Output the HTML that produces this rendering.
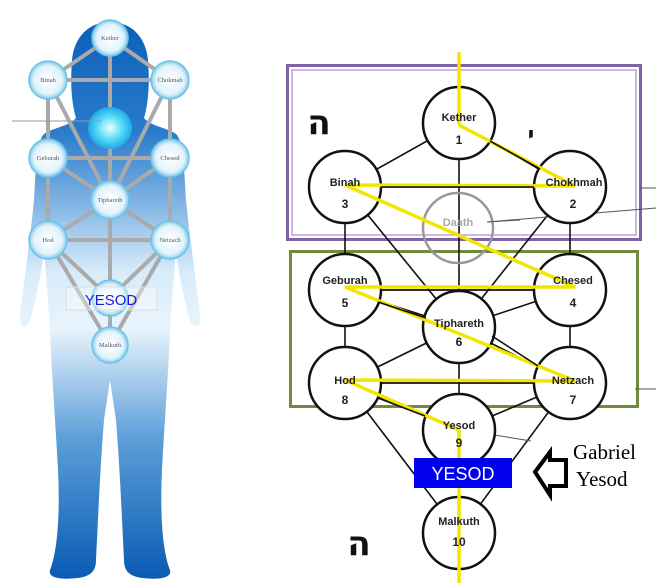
<!DOCTYPE html>
<html><head><meta charset="utf-8">
<style>
html,body{margin:0;padding:0;background:#fff;}
svg{display:block;}
</style></head>
<body>
<svg width="668" height="587" viewBox="0 0 668 587" xmlns="http://www.w3.org/2000/svg" font-family="Liberation Sans, DejaVu Sans, sans-serif">
<defs>
<linearGradient id="body" x1="0" y1="0" x2="0" y2="1">
<stop offset="0" stop-color="#0a5fb8"/>
<stop offset="0.2" stop-color="#2a7ccc"/>
<stop offset="0.45" stop-color="#d8ecfa"/>
<stop offset="0.55" stop-color="#e8f4fc"/>
<stop offset="0.75" stop-color="#5b9ed8"/>
<stop offset="1" stop-color="#0a5bb5"/>
</linearGradient>
<radialGradient id="glow" cx="0.5" cy="0.5" r="0.5">
<stop offset="0" stop-color="#e8ffff"/>
<stop offset="0.6" stop-color="#4fd8f5"/>
<stop offset="1" stop-color="#20a8e8"/>
</radialGradient>
<radialGradient id="node" cx="0.5" cy="0.5" r="0.5">
<stop offset="0" stop-color="#ffffff"/>
<stop offset="0.75" stop-color="#e2f3fb"/>
<stop offset="1" stop-color="#7fcbeb"/>
</radialGradient>
</defs>

<!-- Left figure silhouette -->
<path fill="url(#body)" d="M110,22 C88,22 74,38 72,60 C70,85 72,105 76,118 C70,126 52,128 44,134 C36,142 36,170 34,200 C30,240 24,280 20,315 C18,328 26,330 30,320 C36,300 42,270 44,250 C46,275 48,300 50,330 C52,380 56,430 58,470 C60,510 58,550 50,570 C48,578 60,580 78,578 C92,576 96,570 96,560 C98,520 100,470 104,420 L110,380 L116,420 C120,470 122,520 124,560 C124,570 128,576 142,578 C160,580 172,578 170,570 C162,550 160,510 162,470 C164,430 168,380 170,330 C172,300 174,275 176,250 C178,270 184,300 190,320 C194,330 202,328 200,315 C196,280 190,240 186,200 C184,170 184,142 176,134 C168,128 150,126 144,118 C148,105 150,85 148,60 C146,38 132,22 110,22 Z"/>

<!-- left grey paths -->
<g stroke="#aaa" stroke-width="4" fill="none">
<line x1="110" y1="38" x2="48" y2="80"/><line x1="110" y1="38" x2="170" y2="80"/>
<line x1="48" y1="80" x2="170" y2="80"/><line x1="110" y1="38" x2="110" y2="345"/>
<line x1="48" y1="80" x2="48" y2="240"/><line x1="170" y1="80" x2="170" y2="240"/>
<line x1="48" y1="80" x2="110" y2="200"/><line x1="170" y1="80" x2="110" y2="200"/>
<line x1="48" y1="158" x2="170" y2="158"/><line x1="48" y1="158" x2="110" y2="200"/>
<line x1="170" y1="158" x2="110" y2="200"/><line x1="48" y1="240" x2="110" y2="200"/>
<line x1="170" y1="240" x2="110" y2="200"/><line x1="48" y1="240" x2="170" y2="240"/>
<line x1="48" y1="240" x2="110" y2="298"/><line x1="170" y1="240" x2="110" y2="298"/>
<line x1="48" y1="240" x2="110" y2="345"/><line x1="170" y1="240" x2="110" y2="345"/>
</g>
<ellipse cx="110" cy="128" rx="22" ry="21" fill="url(#glow)"/>
<line x1="12" y1="121" x2="102" y2="121" stroke="#999" stroke-width="1"/>
<g stroke="#6cc3ea" stroke-width="1.5" fill="url(#node)">
<circle cx="110" cy="38" r="18"/><circle cx="48" cy="80" r="19"/><circle cx="170" cy="80" r="19"/>
<circle cx="48" cy="158" r="19"/><circle cx="170" cy="158" r="19"/><circle cx="110" cy="200" r="19"/>
<circle cx="48" cy="240" r="19"/><circle cx="170" cy="240" r="19"/><circle cx="110" cy="298" r="18"/>
<circle cx="110" cy="345" r="18"/>
</g>
<g font-family="Liberation Serif, serif" fill="#556" text-anchor="middle" font-size="6.5">
<text x="110" y="40">Kether</text><text x="48" y="82">Binah</text><text x="170" y="82">Chokmah</text>
<text x="48" y="160">Geburah</text><text x="170" y="160">Chesed</text><text x="110" y="202">Tiphareth</text>
<text x="48" y="242">Hod</text><text x="170" y="242">Netzach</text><text x="110" y="347">Malkuth</text>
</g>
<rect x="66" y="287" width="91" height="23" fill="rgba(255,255,255,0.35)" stroke="#ddd" stroke-width="1"/>
<text x="111" y="305" text-anchor="middle" font-size="15" fill="#1a1ae6">YESOD</text>

<!-- Right diagram -->
<rect x="287.5" y="65.5" width="353" height="174" fill="none" stroke="#8060a8" stroke-width="3"/>
<rect x="292" y="70" width="344" height="165" fill="none" stroke="#b8a6d0" stroke-width="1.5"/>
<rect x="290.5" y="251.5" width="347" height="155" fill="none" stroke="#6e8a3a" stroke-width="3"/>

<g stroke="#111" stroke-width="1.6">
<line x1="459" y1="123" x2="345" y2="187"/><line x1="459" y1="123" x2="570" y2="187"/>
<line x1="345" y1="187" x2="570" y2="187"/>
<line x1="459" y1="123" x2="459" y2="430"/>
<line x1="345" y1="187" x2="345" y2="383"/><line x1="570" y1="187" x2="570" y2="383"/>
<line x1="345" y1="187" x2="459" y2="327"/><line x1="570" y1="187" x2="459" y2="327"/>
<line x1="345" y1="290" x2="570" y2="290"/>
<line x1="345" y1="290" x2="459" y2="327"/><line x1="570" y1="290" x2="459" y2="327"/>
<line x1="345" y1="383" x2="459" y2="327"/><line x1="570" y1="383" x2="459" y2="327"/>
<line x1="345" y1="383" x2="570" y2="383"/>
<line x1="345" y1="383" x2="459" y2="430"/><line x1="570" y1="383" x2="459" y2="430"/>
<line x1="345" y1="383" x2="459" y2="533"/><line x1="570" y1="383" x2="459" y2="533"/>
<line x1="459" y1="430" x2="459" y2="533"/>
</g>
<g stroke="#555" stroke-width="1">
<line x1="640" y1="188" x2="656" y2="188"/>
<line x1="487" y1="222" x2="656" y2="208"/>
<line x1="635" y1="389" x2="656" y2="389"/>
<line x1="482" y1="433" x2="531" y2="441"/>
</g>
<g fill="#fff" stroke="#111" stroke-width="2.5">
<circle cx="459" cy="123" r="36"/><circle cx="345" cy="187" r="36"/><circle cx="570" cy="187" r="36"/>
<circle cx="345" cy="290" r="36"/><circle cx="570" cy="290" r="36"/><circle cx="459" cy="327" r="36"/>
<circle cx="345" cy="383" r="36"/><circle cx="570" cy="383" r="36"/><circle cx="459" cy="430" r="36"/>
<circle cx="459" cy="533" r="36"/>
</g>
<circle cx="458" cy="228" r="35" fill="none" stroke="#999" stroke-width="2.5"/>
<g stroke="#f2e600" stroke-width="3.5" fill="none">
<line x1="459" y1="52" x2="459" y2="125"/>
<polyline points="459,125 575,186 345,185 575,287 345,287 575,381 345,380 459,430"/>
<line x1="459" y1="430" x2="459" y2="583"/>
</g>
<!-- black lines over yellow between circles -->
<g stroke="#111" stroke-width="1.6">
<line x1="381" y1="187" x2="534" y2="187"/>
<line x1="381" y1="290" x2="534" y2="290"/>
<line x1="381" y1="383" x2="534" y2="383"/>
<line x1="490" y1="141" x2="540" y2="169"/>
<line x1="378" y1="302" x2="426" y2="318"/>
<line x1="492" y1="336" x2="538" y2="366"/>
<line x1="378" y1="398" x2="425" y2="416"/>
</g>
<line x1="487" y1="222" x2="520" y2="220" stroke="#555" stroke-width="1"/>
<g font-size="11" font-weight="bold" fill="#222" text-anchor="middle" font-family="Liberation Sans Narrow, Liberation Sans, sans-serif">
<text x="459" y="121">Kether</text><text x="459" y="144" font-size="12">1</text>
<text x="345" y="186">Binah</text><text x="345" y="208" font-size="12">3</text>
<text x="574" y="186">Chokhmah</text><text x="573" y="208" font-size="12">2</text>
<text x="458" y="226" fill="#aaa">Daath</text>
<text x="345" y="284">Geburah</text><text x="345" y="307" font-size="12">5</text>
<text x="573" y="284">Chesed</text><text x="573" y="307" font-size="12">4</text>
<text x="459" y="327">Tiphareth</text><text x="459" y="346" font-size="12">6</text>
<text x="345" y="384">Hod</text><text x="345" y="404" font-size="12">8</text>
<text x="573" y="384">Netzach</text><text x="573" y="404" font-size="12">7</text>
<text x="459" y="429">Yesod</text><text x="459" y="447" font-size="12">9</text>
<text x="459" y="525">Malkuth</text><text x="459" y="546" font-size="12">10</text>
</g>
<g font-family="DejaVu Sans, sans-serif" font-weight="bold" fill="#111" text-anchor="middle">
<text x="319" y="134" font-size="34">ה</text>
<text x="531" y="142" font-size="22">י</text>
<text x="359" y="555" font-size="34">ה</text>
</g>
<rect x="414" y="458" width="98" height="30" fill="#0000ee"/>
<text x="463" y="480" text-anchor="middle" font-size="18" fill="#fff">YESOD</text>
<path d="M535,472 L550,452 L550,460 L566,460 L566,486 L550,486 L550,495 Z" fill="#fff" stroke="#000" stroke-width="4" stroke-linejoin="miter"/>
<g font-family="Liberation Serif, serif" font-size="21" fill="#000">
<text x="573" y="459">Gabriel</text>
<text x="576" y="486">Yesod</text>
</g>
</svg>
</body></html>
